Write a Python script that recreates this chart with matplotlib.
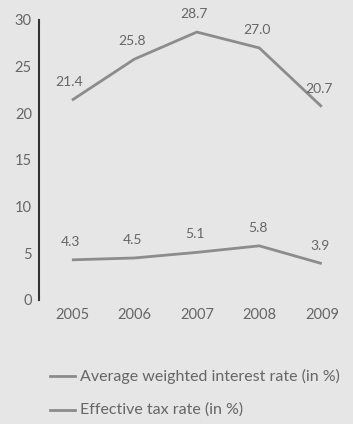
import matplotlib.pyplot as plt

plt.rcParams['font.family'] = ['Lato', 'DejaVu Sans']

years = [2005, 2006, 2007, 2008, 2009]
interest_rate = [21.4, 25.8, 28.7, 27.0, 20.7]
tax_rate = [4.3, 4.5, 5.1, 5.8, 3.9]
yticks = [0, 5, 10, 15, 20, 25, 30]

bg = '#e6e6e6'
line_col = '#8c8c8c'
text_col = '#666666'

fig = plt.figure(figsize=(3.53, 4.24), dpi=100, facecolor=bg)
ax = fig.add_axes([0.110, 0.2925, 0.89, 0.6605], facecolor=bg)

ax.plot(years, interest_rate, color=line_col, lw=2, solid_capstyle='butt')
ax.plot(years, tax_rate, color=line_col, lw=2, solid_capstyle='butt')

# value labels above each point
for x, y in zip(years, interest_rate):
    ax.annotate(f'{y:.1f}', (x, y), xytext=(-2, 13), textcoords='offset points',
                ha='center', va='center', fontsize=10, color=text_col)
for x, y in zip(years, tax_rate):
    ax.annotate(f'{y:.1f}', (x, y), xytext=(-1, 13), textcoords='offset points',
                ha='center', va='center', fontsize=10, color=text_col)

ax.set_xlim(2004.47, 2009.5)
ax.set_ylim(0, 30)
ax.set_yticks(yticks)
ax.set_xticks(years)
ax.tick_params(axis='both', length=0, labelsize=10.5, labelcolor=text_col)
ax.tick_params(axis='y', pad=5)
ax.tick_params(axis='x', pad=6)
for s in ['top', 'right', 'bottom']:
    ax.spines[s].set_visible(False)
ax.spines['left'].set_color('#333333')
ax.spines['left'].set_linewidth(1.5)

# legend rows
for yy, label in [(376, 'Average weighted interest rate (in %)'),
                  (410, 'Effective tax rate (in %)')]:
    fy = 1 - yy / 424
    fig.add_artist(plt.Line2D([50 / 353, 75 / 353], [fy, fy], color=line_col, lw=2))
    fig.text(80 / 353, fy, label, ha='left', va='center', fontsize=11.5, color=text_col)

fig.savefig('out.png', dpi=100, facecolor=bg)
